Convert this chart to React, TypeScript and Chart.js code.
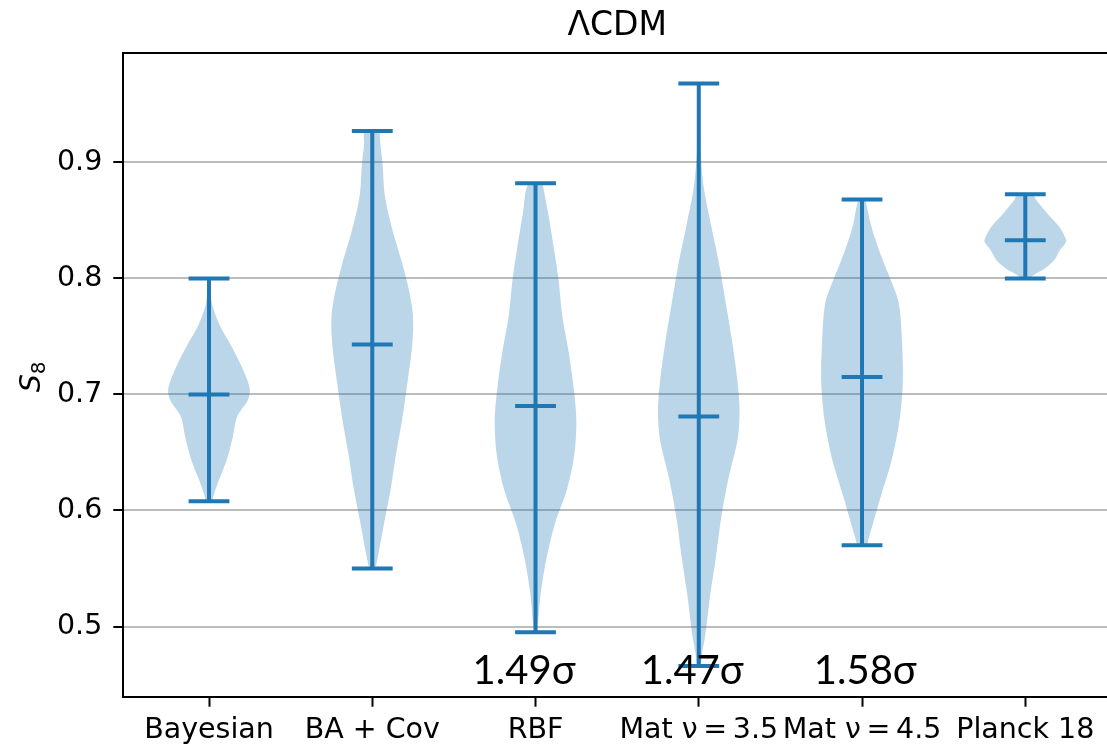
import React, { useEffect, useRef } from 'react';
import { Chart, registerables } from 'chart.js';

Chart.register(...registerables);

// ---------- data ----------
const titleText = 'ΛCDM';
const categories = ['Bayesian', 'BA + Cov', 'RBF', 'Mat ν\u2009=\u20093.5', 'Mat ν\u2009=\u20094.5', 'Planck 18'];
const positions = [1, 2, 3, 4, 5, 6];
const minValues = [0.608, 0.550, 0.495, 0.466, 0.570, 0.800];
const maxValues = [0.800, 0.927, 0.882, 0.968, 0.868, 0.8725];
const meanValues = [0.700, 0.743, 0.690, 0.681, 0.715, 0.833];
const yTicks = [0.5, 0.6, 0.7, 0.8, 0.9];

// violin profiles: S8 levels (top -> bottom) and relative density (1 = widest)
const bayesianS8 = [0.800, 0.779, 0.759, 0.741, 0.724, 0.705, 0.695, 0.681, 0.663, 0.643, 0.626, 0.614, 0.608];
const bayesianDensity = [0.03, 0.07, 0.27, 0.56, 0.80, 1.00, 0.95, 0.69, 0.58, 0.43, 0.24, 0.12, 0.06];
const baCovS8 = [0.927, 0.915, 0.900, 0.871, 0.841, 0.811, 0.788, 0.767, 0.743, 0.707, 0.678, 0.648, 0.618, 0.589, 0.559, 0.550];
const baCovDensity = [0.18, 0.20, 0.25, 0.31, 0.50, 0.75, 0.91, 1.00, 0.98, 0.85, 0.73, 0.58, 0.45, 0.29, 0.13, 0.06];
const rbfS8 = [0.882, 0.856, 0.826, 0.800, 0.767, 0.737, 0.707, 0.678, 0.648, 0.618, 0.589, 0.559, 0.529, 0.495];
const rbfDensity = [0.17, 0.31, 0.45, 0.56, 0.66, 0.81, 0.93, 1.00, 0.95, 0.77, 0.48, 0.27, 0.13, 0.03];
const mat35S8 = [0.968, 0.946, 0.913, 0.879, 0.846, 0.812, 0.779, 0.745, 0.711, 0.685, 0.661, 0.628, 0.594, 0.560, 0.527, 0.493, 0.477, 0.466];
const mat35Density = [0.02, 0.03, 0.04, 0.12, 0.30, 0.50, 0.66, 0.82, 0.95, 1.00, 0.95, 0.73, 0.55, 0.42, 0.28, 0.16, 0.08, 0.04];
const mat45S8 = [0.868, 0.846, 0.829, 0.812, 0.800, 0.779, 0.745, 0.711, 0.678, 0.644, 0.611, 0.577, 0.570];
const mat45Density = [0.08, 0.22, 0.37, 0.55, 0.69, 0.90, 0.98, 1.00, 0.92, 0.73, 0.45, 0.17, 0.10];
const planckS8 = [0.8725, 0.8676, 0.856, 0.8446, 0.836, 0.8316, 0.8244, 0.8158, 0.8086, 0.8029, 0.800];
const planckDensity = [0.20, 0.27, 0.54, 0.83, 0.97, 1.00, 0.85, 0.71, 0.48, 0.20, 0.12];

const sigmaLabels = ['1.49σ', '1.47σ', '1.58σ'];
const sigmaX = [2.93, 3.96, 5.02];
const sigmaY = [0.4505, 0.4505, 0.4505];

const violinS8 = [bayesianS8, baCovS8, rbfS8, mat35S8, mat45S8, planckS8];
const violinDensity = [bayesianDensity, baCovDensity, rbfDensity, mat35Density, mat45Density, planckDensity];

// ---------- styling ----------
const BLUE = '#1f77b4';
const FILL = 'rgba(31,119,180,0.3)';
const VIOLIN_HALF = 0.25;
const CAP_HALF = 0.125;

function violinPolygon(i: number) {
  const pos = positions[i];
  const ys = violinS8[i];
  const ds = violinDensity[i];
  const pts: { x: number; y: number }[] = [];
  for (let k = 0; k < ys.length; k++) pts.push({ x: pos + VIOLIN_HALF * ds[k], y: ys[k] });
  for (let k = ys.length - 1; k >= 0; k--) pts.push({ x: pos - VIOLIN_HALF * ds[k], y: ys[k] });
  pts.push({ x: pos + VIOLIN_HALF * ds[0], y: ys[0] });
  return pts;
}

function segmentsData(fn: (i: number) => { x: number; y: number }[]) {
  const out: { x: number; y: number | null }[] = [];
  positions.forEach((_, i) => {
    out.push(...fn(i));
    out.push({ x: positions[i], y: null });
  });
  return out;
}

const lineStyle = {
  type: 'line' as const,
  borderColor: BLUE,
  borderWidth: 4,
  borderCapStyle: 'butt' as const,
  pointRadius: 0,
  fill: false,
  spanGaps: false,
  tension: 0,
  order: 1,
};

const textPlugin = {
  id: 'textPlugin',
  afterDraw(chart: any) {
    const { ctx, chartArea, scales } = chart;
    ctx.save();
    // top and right spines
    ctx.strokeStyle = '#000';
    ctx.lineWidth = 2;
    ctx.beginPath();
    ctx.moveTo(chartArea.left - 1, chartArea.top);
    ctx.lineTo(chartArea.right + 1, chartArea.top);
    ctx.moveTo(chartArea.right, chartArea.top);
    ctx.lineTo(chartArea.right, chartArea.bottom);
    ctx.stroke();

    // title
    ctx.fillStyle = '#000';
    ctx.textAlign = 'center';
    ctx.textBaseline = 'alphabetic';
    ctx.font = '33px "DejaVu Sans"';
    ctx.fillText(titleText, (chartArea.left + chartArea.right) / 2, chartArea.top - 18);

    // y-axis label S_8 (rotated)
    ctx.save();
    ctx.translate(40, (chartArea.top + chartArea.bottom) / 2 + 2);
    ctx.rotate(-Math.PI / 2);
    ctx.textAlign = 'left';
    ctx.font = 'italic 28.5px "DejaVu Sans"';
    const sW = ctx.measureText('S').width;
    ctx.font = '20px "DejaVu Sans"';
    const eW = ctx.measureText('8').width;
    const start = -(sW + eW) / 2;
    ctx.font = 'italic 28.5px "DejaVu Sans"';
    ctx.fillText('S', start, 0);
    ctx.font = '20px "DejaVu Sans"';
    ctx.fillText('8', start + sW, 5);
    ctx.restore();

    // sigma annotations
    ctx.font = '40px Lato, "Open Sans", sans-serif';
    ctx.textAlign = 'center';
    ctx.textBaseline = 'alphabetic';
    sigmaLabels.forEach((t, i) => {
      ctx.fillText(t, scales.x.getPixelForValue(sigmaX[i]), scales.y.getPixelForValue(sigmaY[i]));
    });
    ctx.restore();
  },
};

export default function App() {
  const ref = useRef<HTMLCanvasElement>(null);

  useEffect(() => {
    document.body.style.margin = '0';
    const violinSets = positions.map((_, i) => ({
      type: 'line' as const,
      label: categories[i] + ' violin',
      data: violinPolygon(i),
      backgroundColor: FILL,
      borderColor: 'rgba(0,0,0,0)',
      borderWidth: 0,
      pointRadius: 0,
      fill: 'shape',
      tension: 0.3,
      order: 2,
    }));
    const chart = new Chart(ref.current as HTMLCanvasElement, {
      type: 'line',
      data: {
        datasets: [
          {
            ...lineStyle,
            label: 'range',
            data: segmentsData((i) => [
              { x: positions[i], y: minValues[i] },
              { x: positions[i], y: maxValues[i] },
            ]),
          },
          {
            ...lineStyle,
            label: 'max',
            data: segmentsData((i) => [
              { x: positions[i] - CAP_HALF, y: maxValues[i] },
              { x: positions[i] + CAP_HALF, y: maxValues[i] },
            ]),
          },
          {
            ...lineStyle,
            label: 'min',
            data: segmentsData((i) => [
              { x: positions[i] - CAP_HALF, y: minValues[i] },
              { x: positions[i] + CAP_HALF, y: minValues[i] },
            ]),
          },
          {
            ...lineStyle,
            label: 'mean',
            data: segmentsData((i) => [
              { x: positions[i] - CAP_HALF, y: meanValues[i] },
              { x: positions[i] + CAP_HALF, y: meanValues[i] },
            ]),
          },
          ...violinSets,
        ] as any,
      },
      options: {
        responsive: false,
        animation: false,
        devicePixelRatio: 1,
        layout: { padding: { left: 0, right: 9, top: 53, bottom: 0 } },
        plugins: {
          legend: { display: false },
          tooltip: { enabled: false },
          title: { display: false },
        },
        scales: {
          x: {
            type: 'linear',
            min: 0.475,
            max: 6.525,
            afterFit: (s: any) => { s.height = 50.3; },
            afterBuildTicks: (s: any) => { s.ticks = positions.map((v) => ({ value: v })); },
            grid: { display: true, drawOnChartArea: false, drawTicks: true, tickLength: 10, tickWidth: 2, tickColor: '#000' },
            border: { display: true, color: '#000', width: 2 },
            ticks: {
              autoSkip: false,
              maxRotation: 0,
              minRotation: 0,
              padding: 7,
              color: '#000',
              font: { family: 'DejaVu Sans', size: 28.5 },
              callback: (v: any) => categories[positions.indexOf(Number(v))] ?? '',
            },
          },
          y: {
            type: 'linear',
            min: 0.4395,
            max: 0.9943,
            afterFit: (s: any) => { s.width = 123.3; },
            afterBuildTicks: (s: any) => { s.ticks = yTicks.map((v) => ({ value: v })); },
            grid: { display: true, drawOnChartArea: true, color: '#bcbcbc', lineWidth: 2, drawTicks: true, tickLength: 10, tickWidth: 2, tickColor: '#000' },
            border: { display: true, color: '#000', width: 2 },
            ticks: {
              padding: 11,
              color: '#000',
              font: { family: 'DejaVu Sans', size: 28.5 },
              callback: (v: any) => Number(v).toFixed(1),
            },
          },
        },
      },
      plugins: [textPlugin],
    } as any);
    return () => chart.destroy();
  }, []);

  return (
    <div style={{ width: 1107, height: 747, overflow: 'hidden', position: 'relative', background: '#fff' }}>
      <canvas ref={ref} width={1120} height={747} style={{ display: 'block', width: 1120, height: 747 }} />
    </div>
  );
}
